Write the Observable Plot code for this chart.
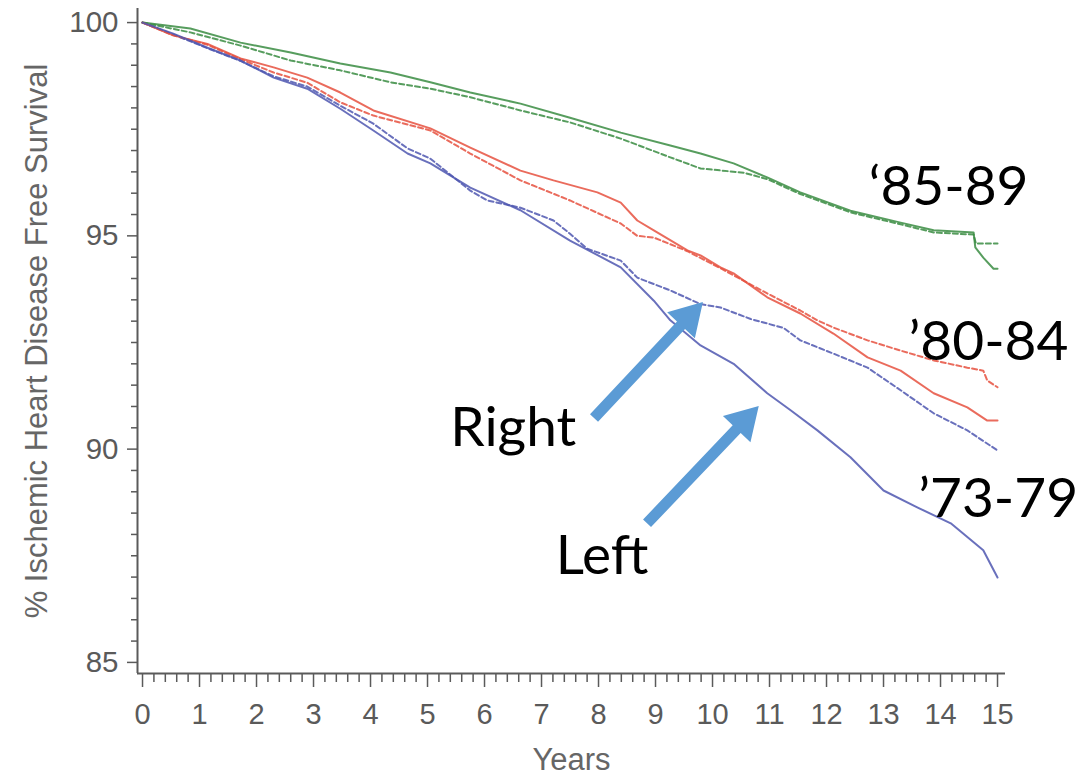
<!DOCTYPE html>
<html>
<head>
<meta charset="utf-8">
<script src="https://cdn.jsdelivr.net/npm/d3@7"></script>
<script src="https://cdn.jsdelivr.net/npm/@observablehq/plot@0.6"></script>
<style>
  body { margin: 0; background: #fff; }
  #chart svg { display: block; }
</style>
</head>
<body>
<div id="chart"></div>
<script>
// ---- Data: [years, % ischemic heart disease free survival] ----
const cohort8589Left = [[0,100],[0.84,99.86],[1.72,99.53],[2.6,99.3],[3.47,99.04],[4.35,98.83],[5.05,98.6],[5.75,98.36],[6.63,98.1],[7.5,97.77],[8.39,97.42],[9.26,97.12],[9.79,96.93],[10.37,96.7],[10.96,96.37],[11.54,96.02],[12.42,95.59],[13.3,95.31],[13.88,95.13],[14.58,95.08],[14.61,94.73],[14.75,94.49],[14.93,94.23],[15,94.23]];
const cohort8589Right = [[0,100],[0.84,99.77],[1.72,99.46],[2.6,99.11],[3.47,98.88],[4.35,98.6],[5.05,98.45],[5.75,98.25],[6.63,97.94],[7.5,97.66],[8.39,97.28],[9.26,96.84],[9.79,96.58],[10.55,96.48],[10.96,96.33],[11.54,95.98],[12.42,95.55],[13.3,95.27],[13.88,95.08],[14.58,95.03],[14.62,94.82],[15,94.82]];
const cohort8084Left = [[0,100],[0.54,99.7],[1.14,99.5],[1.72,99.16],[2.3,98.95],[2.89,98.71],[3.47,98.36],[4.05,97.94],[5.05,97.52],[5.75,97.07],[6.63,96.53],[7.21,96.3],[7.98,96.02],[8.39,95.78],[8.68,95.36],[8.97,95.13],[9.56,94.66],[9.79,94.54],[10.14,94.26],[10.37,94.12],[10.96,93.56],[11.54,93.18],[12.12,92.71],[12.72,92.15],[13.3,91.84],[13.88,91.31],[14.47,90.98],[14.82,90.67],[15,90.67]];
const cohort8084Right = [[0,100],[0.54,99.7],[1.14,99.48],[1.72,99.14],[2.3,98.83],[2.89,98.59],[3.47,98.13],[4.05,97.82],[5.05,97.47],[5.75,96.93],[6.63,96.3],[7.5,95.83],[8.39,95.29],[8.68,95.0],[8.97,94.96],[9.56,94.64],[10.14,94.24],[10.96,93.65],[11.54,93.25],[11.84,93.02],[12.12,92.85],[12.72,92.55],[13.3,92.31],[13.88,92.08],[14.47,91.91],[14.75,91.84],[14.82,91.61],[15,91.45]];
const cohort7379Left = [[0,100],[0.54,99.74],[1.14,99.41],[1.72,99.11],[2.3,98.71],[2.89,98.45],[3.47,97.98],[4.05,97.47],[4.65,96.93],[5.05,96.7],[5.75,96.13],[6.63,95.6],[7.5,94.89],[8.39,94.26],[8.97,93.48],[9.26,93.02],[9.79,92.43],[10.37,92.0],[10.96,91.31],[11.37,90.91],[11.84,90.44],[12.42,89.81],[13.0,89.03],[13.6,88.63],[14.18,88.26],[14.75,87.63],[15,86.99]];
const cohort7379Right = [[0,100],[0.54,99.72],[1.14,99.4],[1.72,99.1],[2.3,98.74],[2.89,98.5],[3.47,98.05],[4.05,97.63],[4.65,97.05],[5.05,96.81],[5.75,96.06],[6.05,95.83],[6.63,95.66],[7.21,95.36],[7.5,95.05],[7.8,94.7],[8.39,94.42],[8.68,94.02],[9.26,93.72],[9.79,93.4],[10.14,93.32],[10.67,93.05],[11.25,92.84],[11.54,92.55],[12.12,92.24],[12.72,91.91],[13.3,91.38],[13.88,90.84],[14.47,90.44],[15,89.97]];

const cohortLabels = ["‘85-89", "’80-84", "’73-79"];
const cohortColors = ["#3a8c42", "#e6513f", "#4f57b0"];
const xMajorTicks = d3.range(0, 16);
const yMajorTicks = [85, 90, 95, 100];
const xDomain = [-0.088, 15.14];
const yDomain = [84.74, 100.33];
const yTitle = "% Ischemic Heart Disease Free Survival";
const xTitle = "Years";

// annotation positions (data units)
const cohortLabelPos = [
  {text: cohortLabels[0], x: 12.74, y: 95.72},
  {text: cohortLabels[1], x: 13.44, y: 92.08},
  {text: cohortLabels[2], x: 13.61, y: 88.40}
];
const sideLabels = [
  {text: "Right", x: 5.40, y: 90.08},
  {text: "Left", x: 7.25, y: 87.08}
];
const arrows = [
  {x1: 7.93, y1: 90.72, x2: 9.84, y2: 93.44},
  {x1: 8.86, y1: 88.25, x2: 10.82, y2: 91.00}
];
const arrowColor = "#5b9bd5";

const series = [
  {cohort: 0, side: "Left", points: cohort8589Left},
  {cohort: 0, side: "Right", points: cohort8589Right},
  {cohort: 1, side: "Left", points: cohort8084Left},
  {cohort: 1, side: "Right", points: cohort8084Right},
  {cohort: 2, side: "Left", points: cohort7379Left},
  {cohort: 2, side: "Right", points: cohort7379Right}
];
const rows = series.flatMap(s => s.points.map(([year, pct]) => ({
  key: s.cohort + s.side, side: s.side, color: cohortColors[s.cohort], year, pct
})));

const xMinorTicks = d3.range(0, 76).map(i => i / 5).filter(v => !Number.isInteger(v));
const yMinorTicks = d3.range(170, 201).map(i => i / 2).filter(v => !Number.isInteger(v / 5));

function arrowsMark(index, scales) {
  const g = d3.create("svg:g").attr("fill", arrowColor);
  for (const a of arrows) {
    const x1 = scales.x(a.x1), y1 = scales.y(a.y1), x2 = scales.x(a.x2), y2 = scales.y(a.y2);
    const dx = x2 - x1, dy = y2 - y1, L = Math.hypot(dx, dy);
    const ux = dx / L, uy = dy / L, nx = -uy, ny = ux;
    const hl = 32, hw = 19, sw = 5.5;
    const bx = x2 - ux * hl, by = y2 - uy * hl;
    const pts = [
      [x1 + nx * sw, y1 + ny * sw], [bx + nx * sw, by + ny * sw], [bx + nx * hw, by + ny * hw],
      [x2, y2],
      [bx - nx * hw, by - ny * hw], [bx - nx * sw, by - ny * sw], [x1 - nx * sw, y1 - ny * sw]
    ];
    g.append("path").attr("d", "M" + pts.map(p => p.join(",")).join("L") + "Z");
  }
  return g.node();
}

const axisColor = "#5a5a5a";
const chart = Plot.plot({
  width: 1084,
  height: 777,
  marginLeft: 137,
  marginRight: 79,
  marginTop: 8,
  marginBottom: 104,
  style: {fontFamily: "'Liberation Sans', Arial, sans-serif", background: "#fff"},
  x: {domain: xDomain},
  y: {domain: yDomain},
  color: {type: "identity"},
  marks: [
    Plot.axisX({ticks: xMinorTicks, tickSize: 9, text: null, stroke: axisColor, strokeWidth: 1.5, label: null}),
    Plot.axisX({ticks: xMajorTicks, tickSize: 14, tickPadding: 16, fontSize: 29, color: axisColor, strokeWidth: 1.5, label: null, tickFormat: d => String(d)}),
    Plot.axisY({ticks: yMinorTicks, tickSize: 6, text: null, stroke: axisColor, strokeWidth: 1.5, label: null}),
    Plot.axisY({ticks: yMajorTicks, tickSize: 10, tickPadding: 9, fontSize: 29.5, color: axisColor, strokeWidth: 1.5, label: null}),
    Plot.ruleY([yDomain[0]], {stroke: axisColor, strokeWidth: 2}),
    Plot.ruleX([xDomain[0]], {stroke: axisColor, strokeWidth: 2}),
    Plot.text([yTitle], {text: d => d, frameAnchor: "left", textAnchor: "middle", rotate: -90, dx: -91, lineAnchor: "bottom", fontSize: 31, fill: "#666"}),
    Plot.text([xTitle], {text: d => d, frameAnchor: "bottom", textAnchor: "middle", dy: 96, lineAnchor: "bottom", fontSize: 31, fill: "#666"}),
    Plot.line(rows.filter(d => d.side === "Right"), {x: "year", y: "pct", z: "key", stroke: "color", strokeWidth: 2, strokeOpacity: 0.85, strokeDasharray: "5,3"}),
    Plot.line(rows.filter(d => d.side === "Left"), {x: "year", y: "pct", z: "key", stroke: "color", strokeWidth: 2, strokeOpacity: 0.85}),
    arrowsMark,
    Plot.text(cohortLabelPos, {x: "x", y: "y", text: "text", textAnchor: "start", lineAnchor: "bottom", fontSize: 55, fontFamily: "Lato, 'Noto Sans', sans-serif", fill: "#000"}),
    Plot.text(sideLabels, {x: "x", y: "y", text: "text", textAnchor: "start", lineAnchor: "bottom", fontSize: 55, fontFamily: "Lato, 'Noto Sans', sans-serif", fill: "#000"})
  ]
});
document.getElementById("chart").appendChild(chart);
</script>
</body>
</html>
